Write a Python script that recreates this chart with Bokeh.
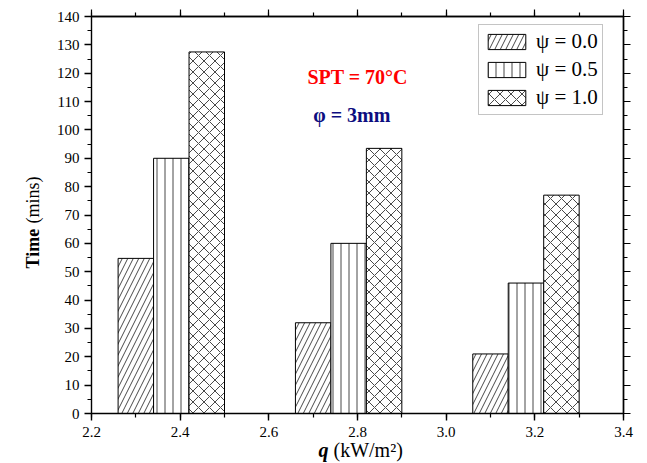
import math
from bokeh.plotting import figure
from bokeh.models import (Range1d, FixedTicker, PrintfTickFormatter, LinearAxis,
                          Label, Legend, LegendItem)
from bokeh.embed import file_html
from bokeh.resources import INLINE

# Heat flux groups (kW/m2, group centres) and melting time (mins) per psi
q_values = [2.38, 2.78, 3.18]
psi_labels = ["ψ = 0.0", "ψ = 0.5", "ψ = 1.0"]
time_psi_00 = [54.7, 32.0, 21.0]
time_psi_05 = [90.0, 60.0, 46.0]
time_psi_10 = [127.5, 93.5, 77.0]

x_ticks = [2.2, 2.4, 2.6, 2.8, 3.0, 3.2, 3.4]
y_ticks = list(range(0, 141, 10))

SERIF = "Liberation Serif"

# Canvas and axis-box geometry (pixels); the frame fills the whole canvas and
# the axes are pinned at the box edges so outer texts are not clipped.
W, H = 647, 463
BOX_L, BOX_R, BOX_T, BOX_B = 91, 623, 16, 413
X0, X1, Y0, Y1 = 2.2, 3.4, 0, 140

ux = (X1 - X0) / (BOX_R - BOX_L)
uy = (Y1 - Y0) / (BOX_B - BOX_T)
x_range = Range1d(X0 - BOX_L * ux, X1 + (W - BOX_R) * ux)
y_range = Range1d(Y0 - (H - BOX_B) * uy, Y1 + BOX_T * uy)

p = figure(width=W, height=H, output_backend="svg", toolbar_location=None,
           x_range=x_range, y_range=y_range, min_border=0,
           x_axis_type=None, y_axis_type=None)
p.outline_line_color = None
p.background_fill_color = "white"
p.border_fill_color = "white"
p.xgrid.visible = False
p.ygrid.visible = False

x_minor = [t / 10 for t in range(22, 35)]
y_minor = list(range(0, 141, 5))


def line_style(ax):
    ax.axis_line_color = "black"
    ax.axis_line_width = 1.4
    ax.major_tick_line_color = "black"
    ax.major_tick_line_width = 1.4
    ax.minor_tick_line_color = "black"
    ax.minor_tick_line_width = 1.2
    ax.major_tick_out = 7
    ax.major_tick_in = 0
    ax.minor_tick_out = 4
    ax.minor_tick_in = 0


# Labelled axes (bottom, left)
bottom = LinearAxis(ticker=FixedTicker(ticks=x_ticks, minor_ticks=x_minor),
                    formatter=PrintfTickFormatter(format="%.1f"),
                    fixed_location=Y0, bounds=(X0, X1))
left = LinearAxis(ticker=FixedTicker(ticks=y_ticks, minor_ticks=y_minor),
                  fixed_location=X0, bounds=(Y0, Y1))
for ax in (bottom, left):
    line_style(ax)
    ax.major_label_text_font = SERIF
    ax.major_label_text_font_size = "15px"
    ax.major_label_text_color = "black"
bottom.major_label_standoff = 6
left.major_label_standoff = 5
p.add_layout(bottom, "below")
p.add_layout(left, "left")

# Closing top and right edges: tick marks only, no labels
for side, loc, bnds, majors, minors in (
        ("above", Y1, (X0, X1), x_ticks, x_minor),
        ("right", X1, (Y0, Y1), y_ticks, y_minor)):
    for marks, out in ((majors, 7), (minors, 4)):
        ax = LinearAxis(ticker=FixedTicker(ticks=[], minor_ticks=marks),
                        fixed_location=loc, bounds=bnds)
        line_style(ax)
        ax.minor_tick_out = out
        p.add_layout(ax, side)

# Grouped hatched bars
bar_width = 0.08
series = [time_psi_00, time_psi_05, time_psi_10]
hatches = ["right_diagonal_line", "vertical_line", "diagonal_cross"]
scales = [11, 8.0, 11]
renderers = []
for i, (vals, hatch, sc) in enumerate(zip(series, hatches, scales)):
    xs = [q + (i - 1) * bar_width for q in q_values]
    r = p.vbar(x=xs, top=vals, bottom=0, width=bar_width,
               fill_color="white", line_color="black", line_width=1,
               hatch_pattern=hatch, hatch_scale=sc, hatch_color="#333333",
               hatch_weight=0.9)
    renderers.append(r)

legend = Legend(items=[LegendItem(label=lab, renderers=[r])
                       for lab, r in zip(psi_labels, renderers)],
                location=(478, H - 115))
legend.label_text_font = SERIF
legend.label_text_font_size = "21px"
legend.label_text_color = "black"
legend.glyph_width = 47
legend.glyph_height = 19
legend.label_height = 19
legend.label_standoff = 6
legend.padding = 4
legend.spacing = 3
legend.margin = 0
legend.border_line_color = "#8a8a8a"
legend.border_line_width = 1
legend.background_fill_color = "white"
legend.background_fill_alpha = 1
p.add_layout(legend)

# Condition annotations
p.add_layout(Label(x=2.687, y=118.8, text="SPT = 70°C", text_font=SERIF,
                   text_font_style="bold", text_font_size="20px",
                   text_color="#ff0000", text_baseline="alphabetic"))
p.add_layout(Label(x=2.700, y=105.3, text="φ = 3mm", text_font=SERIF,
                   text_font_style="bold", text_font_size="20px",
                   text_color="#0d0d80", text_baseline="alphabetic"))

# Axis titles with mixed styles (screen units, origin at canvas bottom-left)
title_specs = [
    dict(x=32, y=195, text="Time", angle=math.pi / 2, style="bold", size="18px"),
    dict(x=32, y=240, text="(mins)", angle=math.pi / 2, style="normal", size="18px"),
    dict(x=318, y=14, text="q", angle=0, style="bold italic", size="20px"),
    dict(x=333, y=14, text="(kW/m²)", angle=0, style="normal", size="20px"),
]
for s in title_specs:
    p.add_layout(Label(x=s["x"], y=s["y"], x_units="screen", y_units="screen",
                       text=s["text"], angle=s["angle"], text_font=SERIF,
                       text_font_style=s["style"], text_font_size=s["size"],
                       text_color="black", text_baseline="alphabetic"))

open("out.html", "w").write(file_html(p, INLINE))
